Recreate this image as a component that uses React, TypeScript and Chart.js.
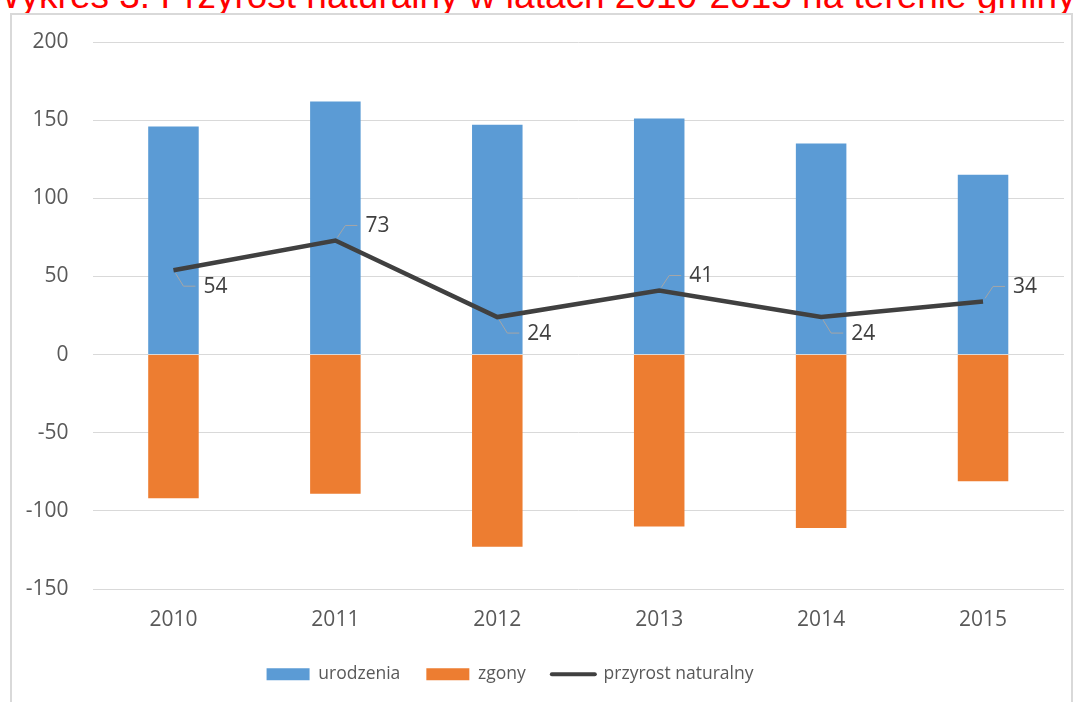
import React, { useEffect, useRef } from 'react';
import { Chart, registerables } from 'chart.js';

Chart.register(...registerables);

const titleText = 'Wykres 3. Przyrost naturalny w latach 2010-2015 na terenie gminy';
const years = ['2010', '2011', '2012', '2013', '2014', '2015'];
const births = [146, 162, 147, 151, 135, 115];
const deaths = [-92, -89, -123, -110, -111, -81];
const naturalIncrease = [54, 73, 24, 41, 24, 34];
const seriesNames = ['urodzenia', 'zgony', 'przyrost naturalny'];
const yMin = -150;
const yMax = 200;
const yStep = 50;

const TEXT = '#595959';
const FONT = '"Open Sans", "Liberation Sans", sans-serif';

const lineLabelPlugin = {
  id: 'lineLabels',
  afterLayout(chart: any) {
    if (chart.legend) {
      chart.legend.left -= 22;
      chart.legend.right -= 22;
    }
  },
  afterDatasetsDraw(chart: any) {
    const meta = chart.getDatasetMeta(2);
    const ctx = chart.ctx;
    ctx.save();
    meta.data.forEach((pt: any, i: number) => {
      const below = i % 2 === 0;
      const dy = below ? 16 : -15;
      ctx.strokeStyle = '#a6a6a6';
      ctx.lineWidth = 1;
      ctx.beginPath();
      ctx.moveTo(pt.x + 2, pt.y + (below ? 3 : -3));
      ctx.lineTo(pt.x + 10, pt.y + dy);
      ctx.lineTo(pt.x + 22, pt.y + dy);
      ctx.stroke();
      ctx.fillStyle = '#404040';
      ctx.font = '21px ' + FONT;
      ctx.textBaseline = 'middle';
      ctx.textAlign = 'left';
      ctx.fillText(String(naturalIncrease[i]), pt.x + 30, pt.y + dy + 1);
    });
    ctx.restore();
  },
};

export default function App() {
  const canvasRef = useRef<HTMLCanvasElement | null>(null);

  useEffect(() => {
    const canvas = canvasRef.current;
    if (!canvas) return;
    const chart = new Chart(canvas, {
      type: 'bar',
      data: {
        labels: years,
        datasets: [
          {
            type: 'bar',
            label: seriesNames[0],
            data: births,
            backgroundColor: '#5B9BD5',
            grouped: false,
            categoryPercentage: 1,
            barPercentage: 0.312,
            order: 2,
          } as any,
          {
            type: 'bar',
            label: seriesNames[1],
            data: deaths,
            backgroundColor: '#ED7D31',
            grouped: false,
            categoryPercentage: 1,
            barPercentage: 0.312,
            order: 2,
          } as any,
          {
            type: 'line',
            label: seriesNames[2],
            data: naturalIncrease,
            borderColor: '#404040',
            backgroundColor: '#404040',
            borderWidth: 4.5,
            pointRadius: 0,
            tension: 0,
            fill: false,
            order: 0,
          } as any,
        ],
      },
      options: {
        responsive: false,
        animation: false,
        layout: { padding: { left: 0, right: 14, top: 42, bottom: 9 } },
        scales: {
          x: {
            grid: { display: false },
            border: { display: false },
            ticks: { color: TEXT, font: { family: FONT, size: 21 }, padding: 10 },
            afterFit: (s: any) => {
              s.height = 50.5;
            },
          },
          y: {
            min: yMin,
            max: yMax,
            ticks: { stepSize: yStep, color: TEXT, font: { family: FONT, size: 21 }, padding: 24 },
            grid: { color: '#d9d9d9', drawTicks: false, lineWidth: 1 },
            border: { display: false },
            afterFit: (s: any) => {
              s.width = 92.5;
            },
          },
        },
        plugins: {
          tooltip: { enabled: false },
          legend: {
            position: 'bottom',
            labels: {
              usePointStyle: true,
              pointStyleWidth: 43,
              boxHeight: 12,
              padding: 26,
              color: TEXT,
              font: { family: FONT, size: 17.5 },
              generateLabels: (ch: any) =>
                ch.data.datasets.map((ds: any, i: number) => ({
                  text: ds.label,
                  datasetIndex: i,
                  fillStyle: i === 2 ? '#404040' : ds.backgroundColor,
                  strokeStyle: i === 2 ? '#404040' : ds.backgroundColor,
                  lineWidth: i === 2 ? 4 : 0,
                  lineCap: 'round',
                  pointStyle: i === 2 ? 'line' : 'rect',
                  fontColor: TEXT,
                  hidden: false,
                })),
            },
          },
        },
      },
      plugins: [lineLabelPlugin],
    } as any);
    return () => chart.destroy();
  }, []);

  return (
    <div
      style={{
        position: 'fixed',
        left: 0,
        top: 0,
        width: 1078,
        height: 702,
        overflow: 'hidden',
        background: '#ffffff',
      }}
    >
      <div
        style={{
          position: 'absolute',
          left: -14,
          top: -23,
          fontFamily: '"Liberation Sans", sans-serif',
          fontSize: 37,
          lineHeight: '37px',
          color: '#ff0000',
          whiteSpace: 'nowrap',
        }}
      >
        {titleText}
      </div>
      <div
        style={{
          position: 'absolute',
          left: 10,
          top: 13,
          width: 1063,
          height: 720,
          boxSizing: 'border-box',
          border: '2px solid #d9d9d9',
          background: '#ffffff',
        }}
      />
      <canvas
        ref={canvasRef}
        width={1078}
        height={702}
        style={{ position: 'absolute', left: 0, top: 0, width: 1078, height: 702 }}
      />
    </div>
  );
}
